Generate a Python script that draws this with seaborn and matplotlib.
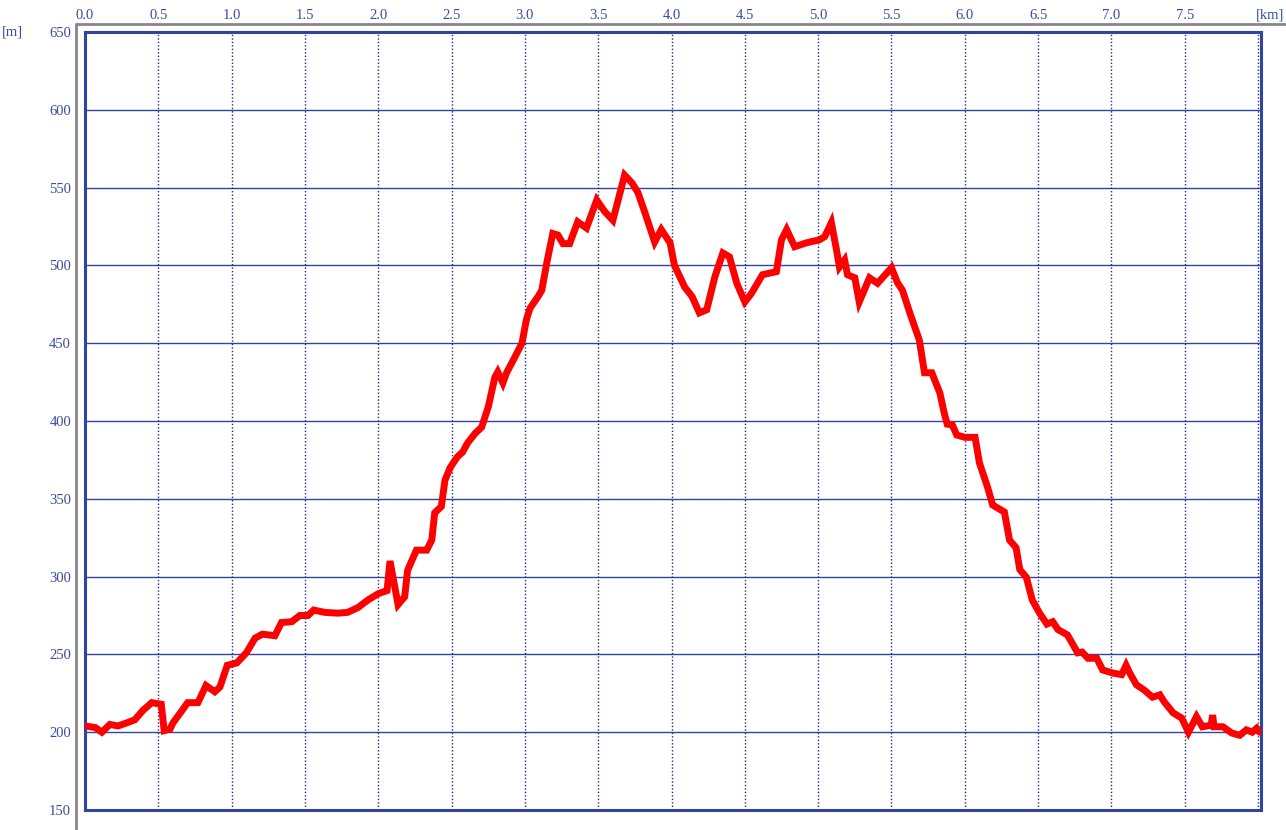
import matplotlib
matplotlib.use("Agg")
import matplotlib.pyplot as plt
from matplotlib.lines import Line2D
import seaborn as sns

# distance along the route [km] and elevation [m]
dist_km = [0.00, 0.07, 0.115, 0.17, 0.225, 0.285, 0.34, 0.395, 0.455, 0.52,
           0.54, 0.58, 0.60, 0.67, 0.70, 0.77, 0.825, 0.885, 0.92, 0.97,
           1.035, 1.10, 1.16, 1.21, 1.295, 1.34, 1.41, 1.465, 1.52, 1.56,
           1.635, 1.725, 1.79, 1.86, 1.93, 2.00, 2.06, 2.08, 2.135, 2.18,
           2.20, 2.26, 2.33, 2.365, 2.385, 2.43, 2.455, 2.49, 2.54, 2.575,
           2.61, 2.66, 2.705, 2.75, 2.795, 2.815, 2.85, 2.875, 2.92, 2.98,
           3.01, 3.035, 3.09, 3.115, 3.15, 3.19, 3.225, 3.26, 3.305, 3.36,
           3.42, 3.49, 3.545, 3.60, 3.68, 3.73, 3.77, 3.82, 3.885, 3.93,
           3.99, 4.02, 4.09, 4.14, 4.19, 4.24, 4.295, 4.35, 4.395, 4.445,
           4.50, 4.545, 4.62, 4.715, 4.75, 4.785, 4.84, 4.92, 5.01, 5.045,
           5.09, 5.125, 5.145, 5.18, 5.20, 5.25, 5.28, 5.35, 5.405, 5.50,
           5.54, 5.575, 5.625, 5.66, 5.69, 5.725, 5.775, 5.83, 5.86, 5.88,
           5.915, 5.945, 6.00, 6.07, 6.10, 6.155, 6.19, 6.27, 6.305, 6.35,
           6.375, 6.42, 6.46, 6.51, 6.56, 6.60, 6.635, 6.70, 6.77, 6.80,
           6.84, 6.90, 6.94, 7.01, 7.07, 7.10, 7.125, 7.17, 7.225, 7.28,
           7.33, 7.36, 7.42, 7.48, 7.525, 7.58, 7.62, 7.68, 7.69, 7.70,
           7.76, 7.82, 7.875, 7.92, 7.96, 7.99, 8.01]
elev_m = [204, 203, 200, 205, 204, 206, 208, 214, 219, 218,
          201, 202, 206, 215, 219, 219, 230, 226, 229, 243,
          244.5, 251, 260.5, 263, 262, 270.5, 271, 275, 275, 278.5,
          277, 276.5, 277, 280, 285, 289, 291, 310, 282, 287,
          304, 317, 317, 323.5, 341, 345, 362, 370, 377, 380,
          386, 392, 396, 409, 428, 431.5, 424.5, 431, 439, 450,
          465, 472.5, 480, 484, 502, 520.5, 519.5, 514, 514, 528,
          524, 542, 534.5, 529, 558, 553, 547, 533.5, 515, 523,
          514.5, 500, 486, 480, 469.5, 471.5, 492.5, 508, 505.5, 488.5,
          476.5, 482, 494, 496, 516.5, 523, 512, 514.5, 516.5, 518.5,
          527.5, 510, 499, 503.5, 494, 492, 476.5, 492, 488.5, 498.5,
          489, 484, 469.5, 460, 452, 431, 431, 418, 405, 398,
          397.5, 391, 389.5, 389.5, 373, 357.5, 346, 341.5, 323.5, 318.5,
          304.5, 299.5, 285, 276.5, 269.5, 271, 266, 262.5, 251, 251.5,
          247.5, 247.5, 240, 238, 237, 243, 238, 230.5, 227, 222.5,
          224, 219.5, 212.5, 209, 200, 210, 203.5, 204.5, 211, 203.5,
          203.5, 199.5, 198, 201.5, 200, 202.5, 200]

x_ticks = [0.0, 0.5, 1.0, 1.5, 2.0, 2.5, 3.0, 3.5, 4.0, 4.5, 5.0, 5.5, 6.0, 6.5, 7.0, 7.5, 8.0]
x_labels = ["0.0", "0.5", "1.0", "1.5", "2.0", "2.5", "3.0", "3.5", "4.0",
            "4.5", "5.0", "5.5", "6.0", "6.5", "7.0", "7.5", ""]
y_ticks = [150, 200, 250, 300, 350, 400, 450, 500, 550, 600, 650]

sns.set_style("white")
plt.rcParams['font.family'] = ['Liberation Serif', 'DejaVu Serif']

W, H = 1286, 830
fig = plt.figure(figsize=(W / 100, H / 100), dpi=100)
ax = fig.add_axes([85 / W, (H - 810) / H, (1261 - 85) / W, (810 - 32) / H])

blue = "#3344a0"
label_blue = "#3a4aa0"

# grid: solid horizontal, dotted vertical
for yv in y_ticks:
    ax.axhline(yv, color=blue, linewidth=1.0, zorder=1)
for xv in x_ticks:
    ax.axvline(xv, color="#1c2a88", linewidth=1.0, linestyle=(0, (1, 1.5)), zorder=1)

sns.lineplot(x=dist_km, y=elev_m, color="#ff0000", linewidth=5, ax=ax,
             zorder=3, solid_joinstyle="miter")

ax.set_xlim(0, 8.02)
ax.set_ylim(150, 650)
ax.set_xticks(x_ticks)
ax.set_xticklabels(x_labels)
ax.set_yticks(y_ticks)
ax.xaxis.tick_top()
ax.tick_params(axis="both", length=0, labelsize=10.5, colors=label_blue)
ax.tick_params(axis="x", pad=7)
ax.tick_params(axis="y", pad=10)
ax.set_xlabel("")
ax.set_ylabel("")
for s in ax.spines.values():
    s.set_color(blue)
    s.set_linewidth(2.2)

# unit labels
fig.text(1284 / W, 1 - 15 / H, "[km]", ha="right", va="center",
         fontsize=10.5, color=label_blue)
fig.text(2 / W, 1 - 32 / H, "[m]", ha="left", va="center",
         fontsize=10.5, color=label_blue)

# gray outer axis lines
fig.add_artist(Line2D([76 / W, 76 / W], [0, 1 - 24 / H], color="#888888",
                      linewidth=2, transform=fig.transFigure))
fig.add_artist(Line2D([76 / W, 1], [1 - 24 / H, 1 - 24 / H], color="#888888",
                      linewidth=2, transform=fig.transFigure))

fig.savefig("out.png", dpi=100, facecolor="white")
